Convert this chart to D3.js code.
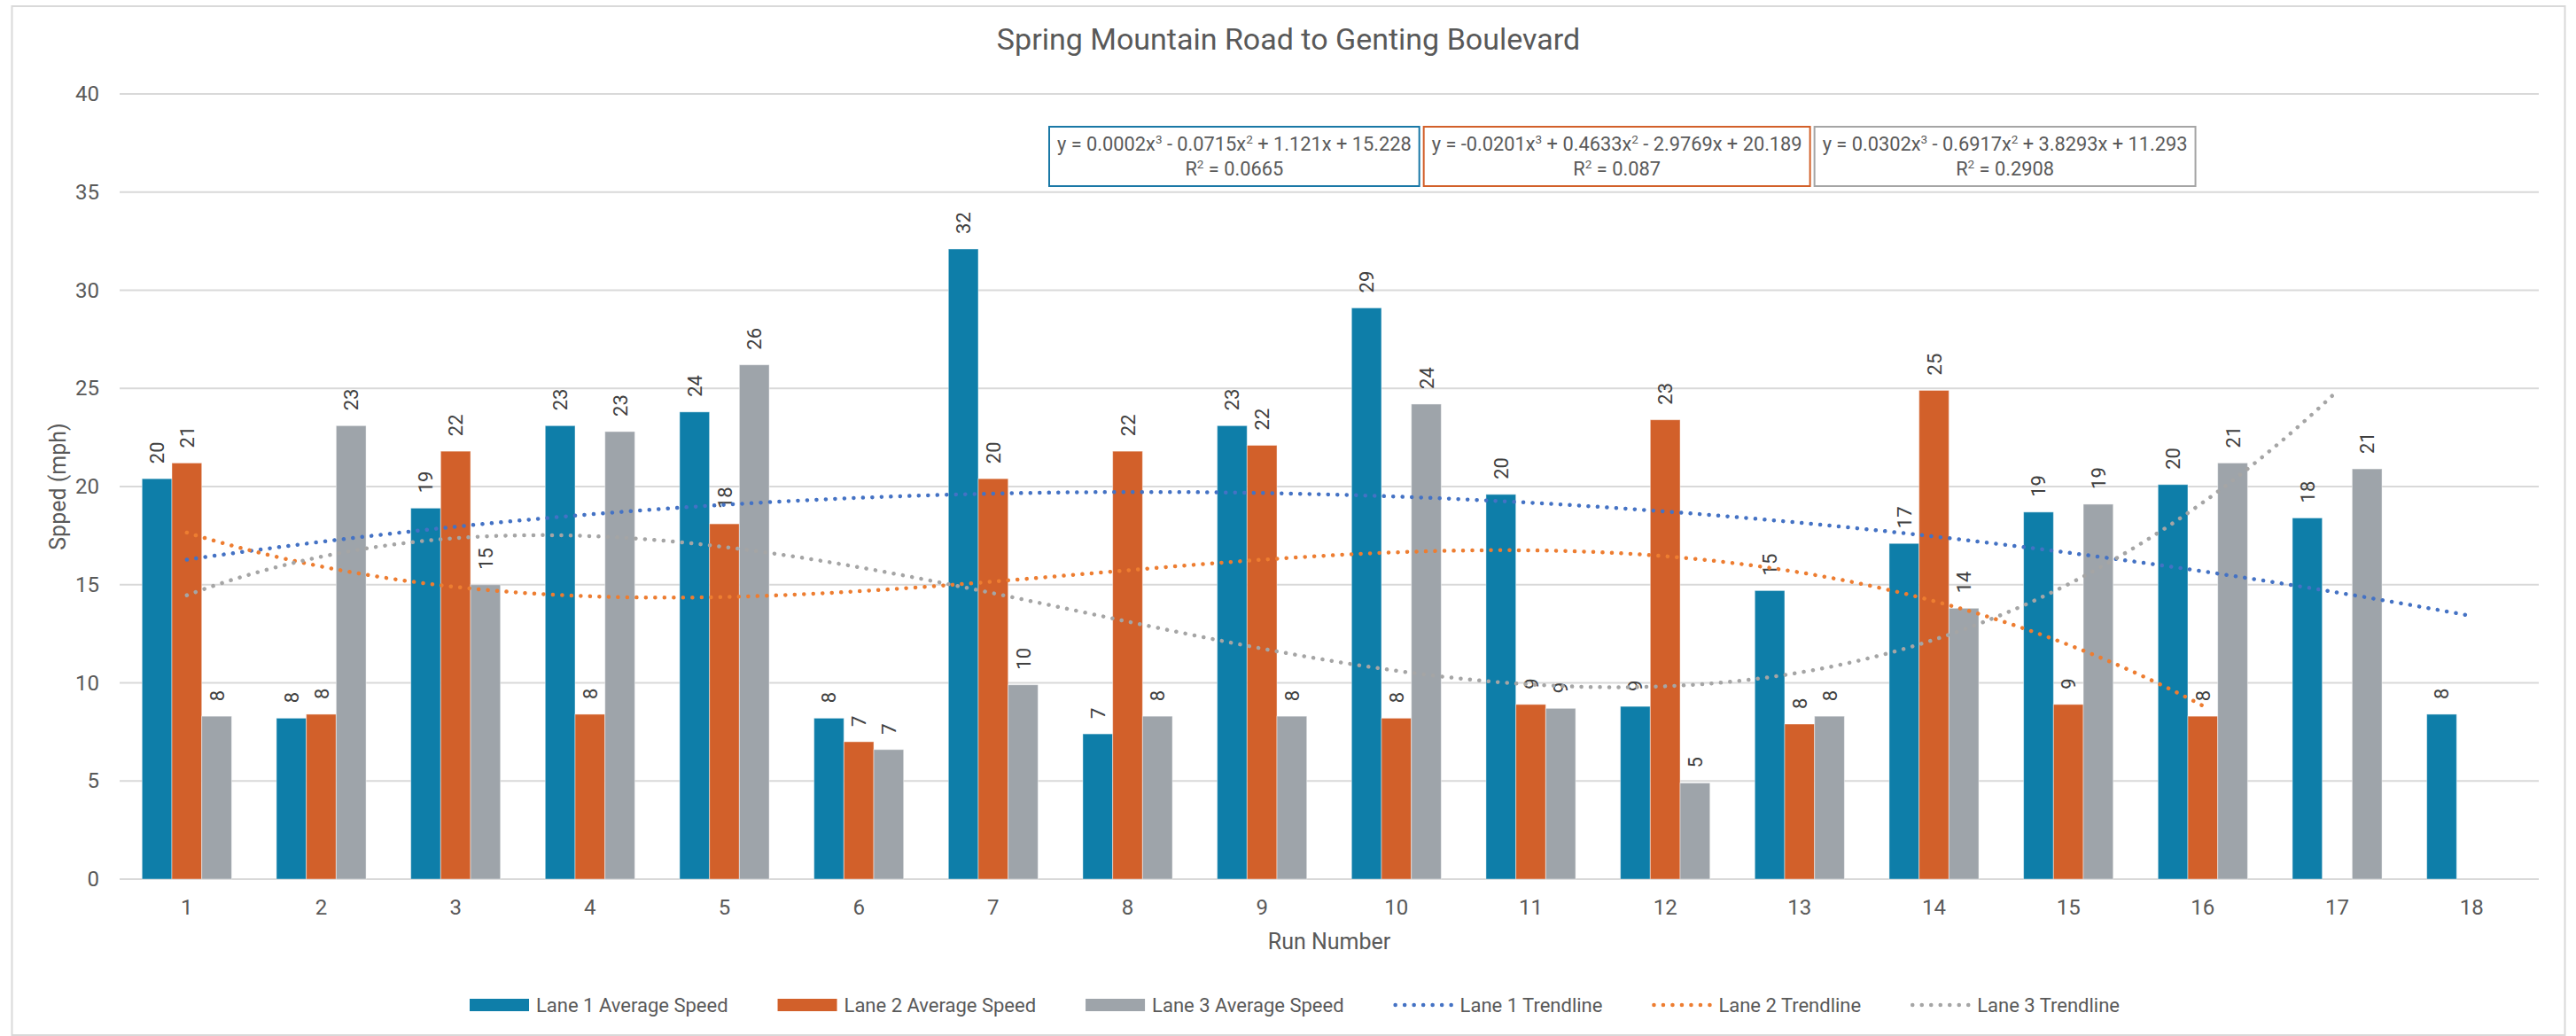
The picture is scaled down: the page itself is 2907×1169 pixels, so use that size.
<!DOCTYPE html>
<html>
<head>
<meta charset="utf-8">
<script src="https://cdn.jsdelivr.net/npm/d3@7.9.0/dist/d3.min.js"></script>
<style>
  html, body { margin: 0; padding: 0; background: #fff; }
  svg { display: block; font-family: Roboto, 'Noto Sans', sans-serif; }
</style>
</head>
<body>
<svg id="chart" width="2907" height="1169"></svg>
<script>
// values
const runs = [1, 2, 3, 4, 5, 6, 7, 8, 9, 10, 11, 12, 13, 14, 15, 16, 17, 18];
const lane1 = [20.4, 8.2, 18.9, 23.1, 23.8, 8.2, 32.1, 7.4, 23.1, 29.1, 19.6, 8.8, 14.7, 17.1, 18.7, 20.1, 18.4, 8.4];
const lane2 = [21.2, 8.4, 21.8, 8.4, 18.1, 7.0, 20.4, 21.8, 22.1, 8.2, 8.9, 23.4, 7.9, 24.9, 8.9, 8.3, null, null];
const lane3 = [8.3, 23.1, 15.0, 22.8, 26.2, 6.6, 9.9, 8.3, 8.3, 24.2, 8.7, 4.9, 8.3, 13.8, 19.1, 21.2, 20.9, null];
const yTicks = [0, 5, 10, 15, 20, 25, 30, 35, 40];

// polynomial trendlines (order 3) as printed on the chart
const trend1 = [0.0002, -0.0715, 1.121, 15.228];
const trend2 = [-0.0201, 0.4633, -2.9769, 20.189];
const trend3 = [0.0302, -0.6917, 3.8293, 11.293];
const r2Values = ['0.0665', '0.087', '0.2908'];

const barNames = ['Lane 1 Average Speed', 'Lane 2 Average Speed', 'Lane 3 Average Speed'];
const trendNames = ['Lane 1 Trendline', 'Lane 2 Trendline', 'Lane 3 Trendline'];

const barColors = ['#0e7ea9', '#d2602a', '#9ea4aa'];
const trendColors = ['#4472c4', '#ed7d31', '#a5a5a5'];
const boxColors = ['#1a78a6', '#d2602a', '#a5a5a5'];

const W = 2907, H = 1169;
const margin = { left: 135, right: W - 2865, top: 106, bottom: H - 992 };
const textColor = '#595959';

const svg = d3.select('#chart');

// chart frame
svg.append('rect')
  .attr('x', 13.5).attr('y', 7).attr('width', 2881).attr('height', 1161)
  .attr('fill', '#fff').attr('stroke', '#d9d9d9').attr('stroke-width', 2);

const x = d3.scaleBand()
  .domain(runs)
  .range([margin.left, W - margin.right])
  .paddingInner(1 / 3)
  .paddingOuter(1 / 6);

const xLane = d3.scaleBand()
  .domain([0, 1, 2])
  .range([0, x.bandwidth()]);

const y = d3.scaleLinear()
  .domain([0, 40])
  .range([H - margin.bottom, margin.top]);

// gridlines
svg.append('g')
  .selectAll('line')
  .data(yTicks)
  .join('line')
  .attr('x1', margin.left)
  .attr('x2', W - margin.right)
  .attr('y1', (d) => y(d))
  .attr('y2', (d) => y(d))
  .attr('stroke', '#d9d9d9')
  .attr('stroke-width', 2);

// y axis labels
svg.append('g')
  .selectAll('text')
  .data(yTicks)
  .join('text')
  .attr('x', 112)
  .attr('y', (d) => y(d) + 8)
  .attr('text-anchor', 'end')
  .attr('font-size', 24)
  .attr('fill', textColor)
  .text((d) => d);

// x axis labels
svg.append('g')
  .selectAll('text')
  .data(runs)
  .join('text')
  .attr('x', (d) => x(d) + x.bandwidth() / 2)
  .attr('y', 1032)
  .attr('text-anchor', 'middle')
  .attr('font-size', 24)
  .attr('fill', textColor)
  .text((d) => d);

// bars
const lanes = [lane1, lane2, lane3];
const barData = [];
lanes.forEach((vals, li) => {
  vals.forEach((v, i) => {
    if (v != null) barData.push({ run: runs[i], lane: li, value: v });
  });
});

svg.append('g')
  .selectAll('rect')
  .data(barData)
  .join('rect')
  .attr('x', (d) => x(d.run) + xLane(d.lane))
  .attr('y', (d) => y(d.value))
  .attr('width', xLane.bandwidth())
  .attr('height', (d) => y(0) - y(d.value))
  .attr('fill', (d) => barColors[d.lane])
  .attr('stroke', 'rgba(255,255,255,0.45)')
  .attr('stroke-width', 1);

// data labels, rotated
svg.append('g')
  .selectAll('text')
  .data(barData)
  .join('text')
  .attr('transform', (d) => {
    const cx = x(d.run) + xLane(d.lane) + xLane.bandwidth() / 2;
    const cy = y(d.value) - 17;
    return `translate(${cx + 8},${cy}) rotate(-90)`;
  })
  .attr('font-size', 22)
  .attr('fill', '#404040')
  .text((d) => d3.format('.0f')(d.value));

// trendlines
const trends = [trend1, trend2, trend3];
const poly = (c, t) => c[0] * t ** 3 + c[1] * t ** 2 + c[2] * t + c[3];
const xCenter = (t) => x(1) + x.bandwidth() / 2 + (t - 1) * x.step();

trends.forEach((c, li) => {
  const vals = lanes[li];
  const present = runs.filter((r, i) => vals[i] != null);
  const [t0, t1] = d3.extent(present);
  const pts = d3.range(t0, t1 + 0.001, 0.05).map((t) => [xCenter(t), y(poly(c, t))]);
  svg.append('path')
    .attr('d', d3.line()(pts))
    .attr('fill', 'none')
    .attr('stroke', trendColors[li])
    .attr('stroke-width', 4.5)
    .attr('stroke-linecap', 'round')
    .attr('stroke-dasharray', '0.1 10.4');
});

// equation boxes
function signed(v, first) {
  const s = String(Math.abs(v));
  if (first) return (v < 0 ? '-' : '') + s;
  return (v < 0 ? ' - ' : ' + ') + s;
}

let boxX = 1184;
const boxY = 143, boxH = 67, boxPad = 9, boxGap = 5, eqSize = 21.8;
trends.forEach((c, li) => {
  const g = svg.append('g');
  const rect = g.append('rect');
  const t1 = g.append('text')
    .attr('font-size', eqSize)
    .attr('fill', textColor)
    .attr('y', boxY + 27);
  t1.append('tspan').text('y = ' + signed(c[0], true) + 'x');
  t1.append('tspan').attr('font-size', 13.5).attr('dy', -8).text('3');
  t1.append('tspan').attr('dy', 8).text(signed(c[1]) + 'x');
  t1.append('tspan').attr('font-size', 13.5).attr('dy', -8).text('2');
  t1.append('tspan').attr('dy', 8).text(signed(c[2]) + 'x' + signed(c[3]));
  const w1 = t1.node().getComputedTextLength();
  const bw = w1 + boxPad * 2;
  t1.attr('x', boxX + boxPad);

  const t2 = g.append('text')
    .attr('font-size', eqSize)
    .attr('fill', textColor)
    .attr('y', boxY + 55)
    .attr('x', boxX + bw / 2)
    .attr('text-anchor', 'middle');
  t2.append('tspan').text('R');
  t2.append('tspan').attr('font-size', 13.5).attr('dy', -8).text('2');
  t2.append('tspan').attr('dy', 8).text(' = ' + r2Values[li]);

  rect.attr('x', boxX).attr('y', boxY)
    .attr('width', bw).attr('height', boxH)
    .attr('fill', '#fff')
    .attr('stroke', boxColors[li])
    .attr('stroke-width', 2);
  boxX += bw + boxGap;
});

// title
svg.append('text')
  .attr('x', 1454)
  .attr('y', 56)
  .attr('text-anchor', 'middle')
  .attr('font-size', 34)
  .attr('fill', textColor)
  .text('Spring Mountain Road to Genting Boulevard');

// axis titles
svg.append('text')
  .attr('transform', `translate(74,${(y(0) + y(40)) / 2}) rotate(-90)`)
  .attr('text-anchor', 'middle')
  .attr('font-size', 25)
  .attr('fill', textColor)
  .text('Spped (mph)');

svg.append('text')
  .attr('x', (margin.left + W - margin.right) / 2)
  .attr('y', 1071)
  .attr('text-anchor', 'middle')
  .attr('font-size', 25)
  .attr('fill', textColor)
  .text('Run Number');

// legend
const legendItems = barNames.map((n, i) => ({ name: n, type: 'bar', color: barColors[i] }))
  .concat(trendNames.map((n, i) => ({ name: n, type: 'line', color: trendColors[i] })));

const legend = svg.append('g');
const swW = 67, swGap = 8, itemGap = 56, legY = 1134;
let lx = 0;
legendItems.forEach((it) => {
  const g = legend.append('g').attr('transform', `translate(${lx},0)`);
  if (it.type === 'bar') {
    g.append('rect').attr('x', 0).attr('y', legY - 7).attr('width', swW).attr('height', 14)
      .attr('fill', it.color);
  } else {
    g.append('line').attr('x1', 2).attr('x2', swW).attr('y1', legY).attr('y2', legY)
      .attr('stroke', it.color).attr('stroke-width', 4.5)
      .attr('stroke-linecap', 'round').attr('stroke-dasharray', '0.1 10.4');
  }
  const t = g.append('text')
    .attr('x', swW + swGap)
    .attr('y', legY + 8)
    .attr('font-size', 22)
    .attr('fill', textColor)
    .text(it.name);
  lx += swW + swGap + t.node().getComputedTextLength() + itemGap;
});
const legW = lx - itemGap;
legend.attr('transform', `translate(${1461 - legW / 2},0)`);
</script>
</body>
</html>
